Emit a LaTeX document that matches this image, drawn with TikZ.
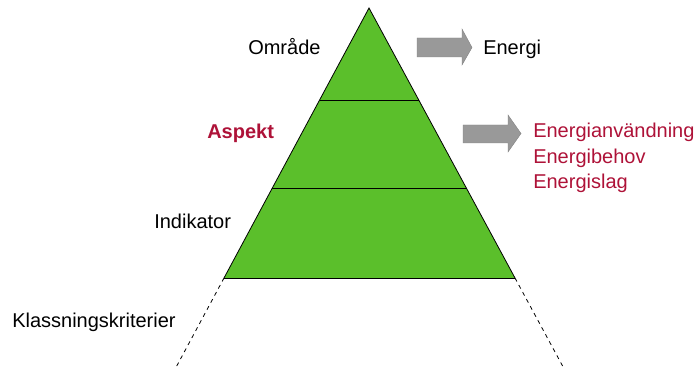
\documentclass[tikz,border=0pt]{standalone}
\usepackage{fontspec}
\setmainfont{Liberation Sans}
\usetikzlibrary{calc}
\definecolor{Leaf}{HTML}{5BBF2B}
\definecolor{Wine}{HTML}{AE1238}
\definecolor{Stone}{HTML}{999999}
\tikzset{
  lbl/.style={anchor=base west,inner sep=0pt,font=\fontsize{15pt}{18pt}\selectfont},
  hot/.style={lbl,text=Wine},
  fatarrow/.style={fill=Stone,draw=Stone!85!black,line width=0.3pt},
  level/.style={line width=0.7pt},
}
\begin{document}
\begin{tikzpicture}[x=0.75pt,y=-0.75pt]
  \useasboundingbox (0,0) rectangle (699,367);
  % pyramid corners
  \coordinate (apex) at (369,8);
  \coordinate (baseL) at (224,278);
  \coordinate (baseR) at (515,278);
  \fill[Leaf] (apex) -- (baseL) -- (baseR) -- cycle;
  \draw[line width=0.6pt] (baseL) -- (apex) -- (baseR);
  \draw[level] (baseL) -- (baseR);
  % level lines
  \draw[level] ($(apex)!0.3407!(baseL)$) -- ($(apex)!0.3407!(baseR)$);
  \draw[level] ($(apex)!0.670!(baseL)$) -- ($(apex)!0.670!(baseR)$);
  % continuation below the base
  \coordinate (footL) at ($(apex)!1.326!(baseL)$);
  \coordinate (footR) at ($(apex)!1.326!(baseR)$);
  \draw[dashed,line width=0.6pt] (baseL) -- (footL);
  \draw[dashed,line width=0.6pt] (baseR) -- (footR);
  % labels left
  \node[lbl] (omrade) at (248,55) {Område};
  \node[lbl,font=\fontsize{15pt}{18pt}\selectfont\bfseries,text=Wine] (aspekt) at (207,139) {Aspekt};
  \node[lbl] (indikator) at (154,228) {Indikator};
  \node[lbl] (klass) at (12,327) {Klassningskriterier};
  % arrows
  \fill[fatarrow] (417,38) -- (462,38) -- (462,29) -- (472,47.5) -- (462,65) -- (462,57) -- (417,57) -- cycle;
  \fill[fatarrow] (463,125) -- (508,125) -- (508,115) -- (521,133.5) -- (508,152) -- (508,143) -- (463,143) -- cycle;
  % labels right
  \node[lbl] (energi) at (483,55) {Energi};
  \node[hot] (anvandning) at (533,138) {Energianvändning};
  \node[hot] (behov) at (533,163) {Energibehov};
  \node[hot] (slag) at (533,188) {Energislag};
\end{tikzpicture}
\end{document}
